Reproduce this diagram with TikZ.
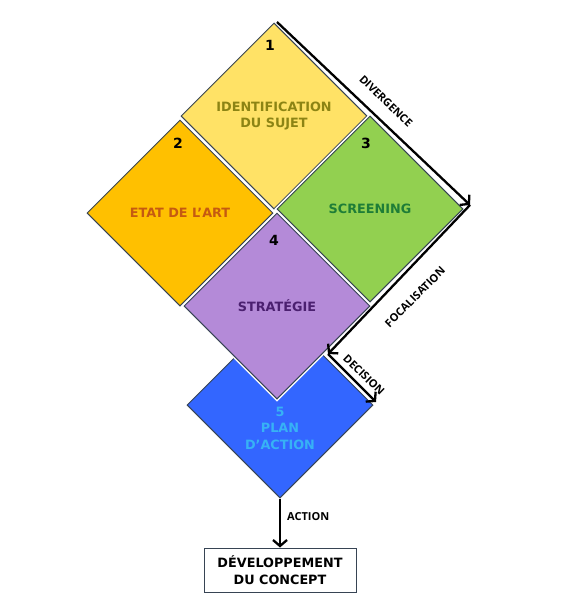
\documentclass[tikz,border=0pt]{standalone}
\usepackage{fontspec}
\setmainfont{DejaVu Sans}
\newfontfamily\labfont{Open Sans}
\usetikzlibrary{shapes.geometric,arrows.meta}
\definecolor{edgec}{RGB}{55,68,84}
\definecolor{yel}{RGB}{255,226,102}
\definecolor{ora}{RGB}{255,192,0}
\definecolor{gre}{RGB}{146,208,80}
\definecolor{pur}{RGB}{180,138,216}
\definecolor{blu}{RGB}{51,102,255}
\definecolor{olivet}{RGB}{140,132,20}
\definecolor{oranget}{RGB}{197,90,17}
\definecolor{greent}{RGB}{30,125,55}
\definecolor{purt}{RGB}{75,32,112}
\definecolor{blut}{RGB}{55,178,245}
\begin{document}
\begin{tikzpicture}[x=1pt,y=-1pt,
  dia/.style={diamond, aspect=1, minimum width=186pt, minimum height=186pt, inner sep=0pt,
    draw=edgec, line width=1pt, preaction={draw=white,line width=4pt},
    font=\bfseries\fontsize{12.8}{16}\selectfont, align=center},
  num/.style={font=\bfseries\fontsize{14}{16}\selectfont, text=black},
  flow/.style={line width=2.3pt, -{Straight Barb[length=6pt,width=14pt]}},
  lab/.style={font=\labfont\bfseries\fontsize{11}{13}\selectfont, text=black, inner sep=1pt},
  txt/.style={font=\bfseries\fontsize{12.8}{16.5}\selectfont, align=center}]
\useasboundingbox (0,0) rectangle (580,600);
\fill[white] (0,0) rectangle (580,600);
% diamonds
\node[dia, fill=yel, text=olivet] (d1) at (274,116) {IDENTIFICATION\\DU SUJET};
\node[dia, fill=ora, text=oranget] (d2) at (180,213) {ETAT DE L’ART};
\node[dia, fill=gre, text=greent] (d3) at (370,209) {SCREENING};
\node[dia, fill=blu] (d5) at (280,405) {};
\node[dia, fill=pur, text=purt] (d4) at (277,306) {STRATÉGIE};
\node[txt, text=blut] (t5) at (280,428) {5\\PLAN\\D’ACTION};
% numbers
\node[num] (n1) at (270,45) {1};
\node[num] (n2) at (178,143) {2};
\node[num] (n3) at (366,143) {3};
\node[num] (n4) at (274,240) {4};
% flow arrows
\coordinate (a0) at (277,22);
\coordinate (a1) at (470,205);
\coordinate (a2) at (328,354);
\coordinate (a3) at (376,402);
\draw[flow] (a0) -- (a1);
\draw[flow] (a1) -- (a2);
\draw[flow] (a2) -- (a3);
\node[lab, rotate=-44] (l1) at (386,101) {DIVERGENCE};
\node[lab, rotate=45] (l2) at (415,297) {FOCALISATION};
\node[lab, rotate=-44] (l3) at (364,375) {DECISION};
% final box
\node[draw=edgec, line width=1pt, minimum width=152pt, minimum height=44pt, txt, text=black] (box) at (280,570) {DÉVELOPPEMENT\\DU CONCEPT};
\draw[flow] (d5.south) -- (box.north);
\node[lab, anchor=west] (l4) at (286,517) {ACTION};
\end{tikzpicture}
\end{document}
